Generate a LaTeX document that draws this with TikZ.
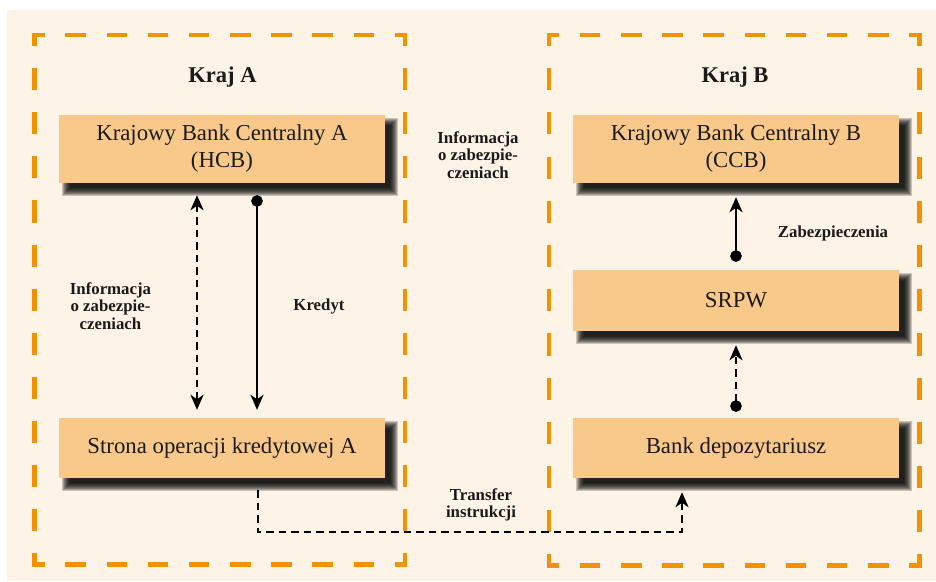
\documentclass[tikz,border=0pt]{standalone}
\usepackage{fontspec}
\setmainfont{Liberation Serif}
\usetikzlibrary{arrows.meta,calc}

\definecolor{pagecream}{HTML}{FDF3E7}
\definecolor{frameorange}{HTML}{F39200}
\definecolor{boxfill}{HTML}{F9C98B}
\definecolor{inkblack}{HTML}{1A1A1A}

\pgfdeclarelayer{back}
\pgfdeclarelayer{shade}
\pgfsetlayers{back,shade,main}

% One side of a country frame: the dash period is fitted to the side,
% so every corner gets a half dash on each of its two sides.
\newcommand\frameedge[4]{%
  \pgfmathsetmacro\edgeper{veclen(#3-#1,#4-#2)/max(1,floor(veclen(#3-#1,#4-#2)/41))}%
  \pgfmathsetmacro\edgeon{\edgeper/2-4.5}%
  \pgfmathsetmacro\edgeoff{\edgeper/2+4.5}%
  \pgfmathsetmacro\edgephase{\edgeper/4-2.25}%
  \draw[frameline, dash pattern=on \edgeon pt off \edgeoff pt, dash phase=\edgephase pt] (#1,#2) -- (#3,#4);%
}
\newcommand\countryframe[4]{%
  \frameedge{#1}{#2}{#3}{#2}%
  \frameedge{#3}{#2}{#3}{#4}%
  \frameedge{#3}{#4}{#1}{#4}%
  \frameedge{#1}{#4}{#1}{#2}%
}
% Soft drop shadow behind a box node
\newcommand\boxshadow[1]{%
  \begin{pgfonlayer}{shade}
    \foreach \e in {-3,...,5}
      \fill[black, opacity=0.2]
        ($(#1.north west)+(8-\e,8-\e)$) rectangle ($(#1.south east)+(8+\e,8+\e)$);
  \end{pgfonlayer}%
}

\begin{document}
\begin{tikzpicture}[
  x=1pt, y=-1pt,
  frameline/.style={draw=frameorange, line width=4.5pt, line cap=rect},
  bankbox/.style={fill=boxfill, text=inkblack, minimum width=326pt, inner sep=0pt,
    align=center, font=\fontsize{22.8}{27}\selectfont},
  countrylabel/.style={text=inkblack, font=\bfseries\fontsize{22.5}{26}\selectfont, inner sep=0pt},
  flowlabel/.style={text=inkblack, align=center, inner sep=0pt,
    font=\bfseries\fontsize{16.8}{17.5}\selectfont},
  conn/.style={draw=black, line width=2.8pt},
  dashconn/.style={conn, dash pattern=on 7.5pt off 5pt},
  tipend/.tip={Stealth[length=15pt, width=13pt, inset=4.5pt]},
  dotend/.tip={Circle[length=11.5pt]}
]
\useasboundingbox (0,0) rectangle (936,581);
\begin{pgfonlayer}{back}
  \fill[white] (0,0) rectangle (936,581);
  \fill[pagecream] (7,10) rectangle (936,581);
\end{pgfonlayer}

% country frames
\countryframe{34.5}{35}{405}{564.5}
\countryframe{549}{35}{919.5}{565.5}

\node[countrylabel, anchor=base] (krajA) at (222.5,82) {Kraj A};
\node[countrylabel, anchor=base] (krajB) at (735,82) {Kraj B};

% institutions
\node[bankbox, minimum height=68pt] (hcb) at (222,149) {Krajowy Bank Centralny A\\(HCB)};
\node[bankbox, minimum height=60pt] (strona) at (222,448) {Strona operacji kredytowej A};
\node[bankbox, minimum height=68pt] (ccb) at (736,149) {Krajowy Bank Centralny B\\(CCB)};
\node[bankbox, minimum height=61pt] (srpw) at (736,300.5) {SRPW};
\node[bankbox, minimum height=60pt] (bank) at (736,448) {Bank depozytariusz};

\boxshadow{hcb}
\boxshadow{strona}
\boxshadow{ccb}
\boxshadow{srpw}
\boxshadow{bank}

% flows inside country A
\draw[dashconn, {tipend}-{tipend}, shorten <=12pt, shorten >=8pt]
  ([xshift=-25pt]hcb.south) -- ([xshift=-25pt]strona.north);
\draw[conn, {dotend}-{tipend}, shorten <=12pt, shorten >=8pt]
  ([xshift=35pt]hcb.south) -- ([xshift=35pt]strona.north);

% flows inside country B
\draw[conn, {dotend}-{tipend}, shorten <=8pt, shorten >=14pt]
  (srpw.north) -- (ccb.south);
\draw[dashconn, {dotend}-{tipend}, shorten <=6pt, shorten >=14pt]
  (bank.north) -- (srpw.south);

% transfer between countries
\coordinate (route) at (470,532);
\draw[dashconn, -{tipend}]
  ([xshift=36pt,yshift=-12pt]strona.south) |- (route) -| ([xshift=-54pt,yshift=-14pt]bank.south);

% labels
\node[flowlabel] (infoA) at (110.5,306) {Informacja\\o zabezpie-\\czeniach};
\node[flowlabel] (infoMid) at (478,155) {Informacja\\o zabezpie-\\czeniach};
\node[flowlabel] (kredyt) at (319,306) {Kredyt};
\node[flowlabel] (zabezp) at (833,233) {Zabezpieczenia};
\node[flowlabel] (transfer) at (481,505) {Transfer\\instrukcji};
\end{tikzpicture}
\end{document}
